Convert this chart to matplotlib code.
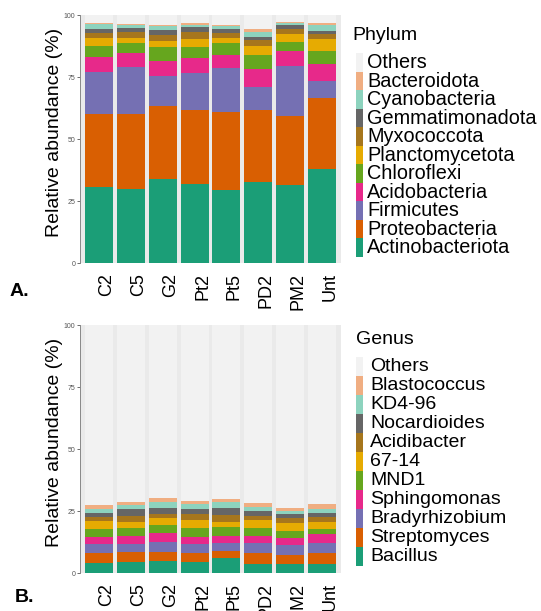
import numpy as np
import matplotlib
matplotlib.use("Agg")
import matplotlib.pyplot as plt
import matplotlib.transforms as mtransforms
from matplotlib.patches import Rectangle

plt.rcParams['font.family'] = ['Liberation Sans', 'DejaVu Sans']

# samples
samples = ['C2', 'C5', 'G2', 'Pt2', 'Pt5', 'PD2', 'PM2', 'Unt']

# phylum level (% per sample, bottom to top)
phyla = ['Actinobacteriota', 'Proteobacteria', 'Firmicutes', 'Acidobacteria',
         'Chloroflexi', 'Planctomycetota', 'Myxococcota', 'Gemmatimonadota',
         'Cyanobacteria', 'Bacteroidota']
actino = [30.8, 29.7, 33.7, 31.9, 29.4, 32.8, 31.3, 37.9]
proteo = [29.4, 30.3, 29.7, 29.7, 31.5, 29.0, 28.1, 28.8]
firmic = [16.9, 19.0, 11.9, 15.0, 17.6, 9.3, 20.2, 6.8]
acido = [6.1, 5.5, 6.0, 5.9, 5.2, 7.0, 5.9, 6.7]
chloro = [4.2, 4.3, 5.7, 4.7, 5.0, 5.6, 3.7, 5.4]
plancto = [3.2, 2.0, 2.6, 3.1, 2.1, 3.9, 3.0, 4.7]
myxo = [2.1, 2.2, 2.5, 2.8, 1.9, 2.5, 2.2, 2.2]
gemma = [1.7, 1.8, 2.0, 2.2, 1.8, 1.2, 1.6, 1.0]
cyano = [2.0, 1.0, 1.3, 0.8, 1.2, 2.0, 0.6, 2.5]
bactero = [0.5, 0.5, 0.6, 0.5, 0.4, 1.1, 0.4, 0.9]
phylum_vals = [actino, proteo, firmic, acido, chloro, plancto, myxo, gemma, cyano, bactero]

# genus level
genera = ['Bacillus', 'Streptomyces', 'Bradyrhizobium', 'Sphingomonas', 'MND1',
          '67-14', 'Acidibacter', 'Nocardioides', 'KD4-96', 'Blastococcus']
bacillus = [4.2, 4.6, 4.8, 4.6, 5.9, 3.5, 3.5, 3.5]
strepto = [4.0, 4.0, 3.8, 3.6, 3.0, 4.7, 3.8, 4.7]
bradyrh = [3.4, 3.1, 4.0, 3.4, 3.1, 3.8, 4.0, 3.8]
sphingo = [3.0, 3.2, 3.5, 3.0, 3.1, 3.1, 2.7, 3.7]
mnd1 = [3.1, 3.4, 3.3, 3.4, 3.6, 3.2, 2.9, 1.9]
g6714 = [3.3, 2.4, 2.6, 3.4, 2.0, 3.1, 3.1, 3.1]
acidib = [1.7, 2.4, 1.7, 2.4, 2.7, 1.7, 2.3, 2.0]
nocard = [1.6, 2.6, 2.4, 1.9, 2.7, 1.9, 1.5, 1.6]
kd496 = [1.4, 1.7, 2.4, 2.0, 2.7, 1.7, 1.2, 1.4]
blasto = [1.7, 1.2, 1.9, 1.3, 0.9, 1.6, 1.1, 2.0]
genus_vals = [bacillus, strepto, bradyrh, sphingo, mnd1, g6714, acidib, nocard, kd496, blasto]

colors = ['#1B9E77', '#D95F02', '#7570B3', '#E7298A', '#66A61E',
          '#E6AB02', '#A6761D', '#666666', '#8DD3BE', '#F0AE82']
others_col = '#F2F2F2'

W, H = 541, 611
fig = plt.figure(figsize=(W / 100, H / 100), dpi=100)


def fx(x):
    return x / W


def fy(y):
    return 1 - y / H


def draw_panel(top, vals, names, leg_title, tx, key_x, text_x, row0, step, lsize, ylab_y):
    ax = fig.add_axes([fx(80), fy(top + 248), fx(261), 248 / H])
    ax.set_facecolor('#EAEAEA')
    x = np.arange(1, len(samples) + 1)
    bottom = np.zeros(len(samples))
    for v, c in zip(vals, colors):
        ax.bar(x, v, bottom=bottom, width=0.88, color=c, linewidth=0)
        bottom += np.array(v)
    ax.bar(x, 100 - bottom, bottom=bottom, width=0.88, color=others_col, linewidth=0)

    ax.set_xlim(0.4, 8.6)
    ax.set_ylim(0, 100)
    ax.set_yticks([0, 25, 50, 75, 100])
    ax.tick_params(axis='y', labelsize=5, colors='#555555', length=2.5, width=0.6, pad=1)
    ax.set_xticks(x)
    ax.set_xticklabels(samples, rotation=90, fontsize=13)
    ax.tick_params(axis='x', length=0, pad=7)
    off = mtransforms.ScaledTranslation(0.08, 0, fig.dpi_scale_trans)
    for lab in ax.get_xticklabels():
        lab.set_transform(lab.get_transform() + off)
    for s in ['top', 'right', 'bottom']:
        ax.spines[s].set_visible(False)
    ax.spines['left'].set_color('#888888')
    ax.spines['left'].set_linewidth(0.7)

    fig.text(fx(55), fy(ylab_y), 'Relative abundance (%)', rotation=90,
             ha='center', va='center', fontsize=14)

    # legend, top entry is Others
    fig.text(fx(tx), fy(row0 - 27), leg_title, ha='left', va='center', fontsize=14)
    labels = ['Others'] + names[::-1]
    cols = [others_col] + colors[::-1]
    for i, (lab, c) in enumerate(zip(labels, cols)):
        yc = row0 + i * step
        fig.patches.append(Rectangle((fx(key_x), fy(yc + step / 2)), fx(7), step / H,
                                     transform=fig.transFigure, facecolor=c,
                                     edgecolor='none'))
        fig.text(fx(text_x), fy(yc), lab, ha='left', va='center', fontsize=lsize)
    return ax


draw_panel(15, phylum_vals, phyla, 'Phylum', 352, 356, 367, 62.7, 18.5, 14.3, 132)
draw_panel(325, genus_vals, genera, 'Genus', 356, 356, 370, 366.7, 19.0, 14, 442)

fig.text(fx(10), fy(292), 'A.', ha='left', va='center', fontsize=14, fontweight='bold')
fig.text(fx(15), fy(598), 'B.', ha='left', va='center', fontsize=14, fontweight='bold')

fig.savefig('out.png', dpi=100)
